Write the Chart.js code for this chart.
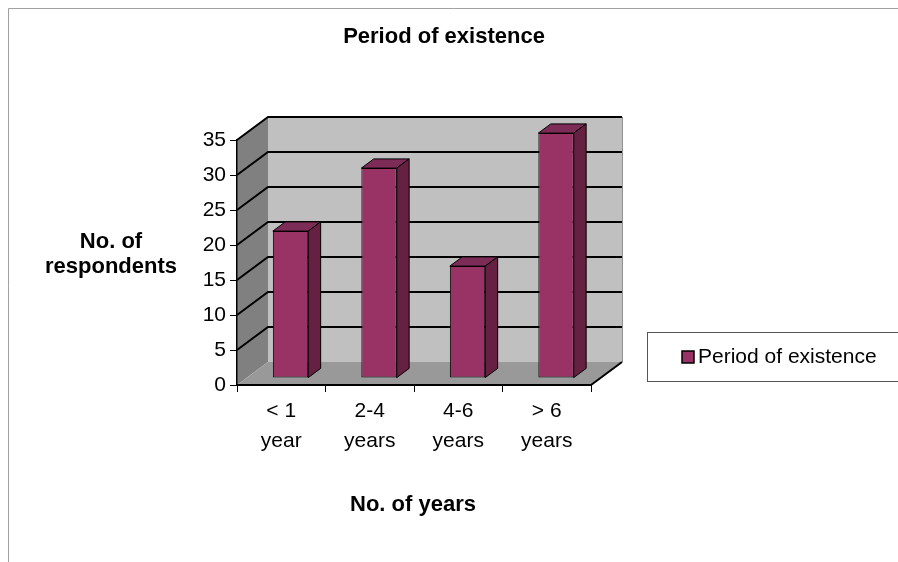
<!DOCTYPE html>
<html>
<head>
<meta charset="utf-8">
<script src="https://cdn.jsdelivr.net/npm/chart.js@4"></script>
<style>
  html, body { margin: 0; padding: 0; background: #fff; }
</style>
</head>
<body>
<canvas id="grafico" width="898" height="562"></canvas>
<script>
const categorias = [['< 1', 'year'], ['2-4', 'years'], ['4-6', 'years'], ['> 6', 'years']];
const valores = [21, 30, 16, 35];
const ticksY = [0, 5, 10, 15, 20, 25, 30, 35];
const serie = 'Period of existence';
const titulo = 'Period of existence';
const tituloY = ['No. of', 'respondents'];
const tituloX = 'No. of years';

const fuente = '"Liberation Sans", Arial, sans-serif';
Chart.defaults.font.family = fuente;

// profundidad del efecto 3D
const prof = { dx: 31, dy: -23 };
const frente = 0.3;   // donde empieza la barra
const grosor = 0.4;   // cuanto fondo tiene la barra

function poligono(ctx, pts, relleno, trazo, ancho) {
  ctx.beginPath();
  ctx.moveTo(pts[0][0], pts[0][1]);
  pts.slice(1).forEach(p => ctx.lineTo(p[0], p[1]));
  ctx.closePath();
  if (relleno) { ctx.fillStyle = relleno; ctx.fill(); }
  if (trazo) { ctx.strokeStyle = trazo; ctx.lineWidth = ancho || 1; ctx.stroke(); }
}

const paredes = {
  id: 'paredes',
  beforeDraw(chart) {
    const ctx = chart.ctx;
    const { left, right, top, bottom } = chart.chartArea;
    const { dx, dy } = prof;
    ctx.save();
    // borde exterior
    ctx.strokeStyle = '#a0a0a0';
    ctx.lineWidth = 1;
    ctx.beginPath();
    ctx.moveTo(8.5, 562); ctx.lineTo(8.5, 8.5); ctx.lineTo(898, 8.5);
    ctx.stroke();

    poligono(ctx, [[left, bottom], [left, top], [left + dx, top + dy], [left + dx, bottom + dy]], '#808080');
    poligono(ctx, [[left + dx, top + dy], [right + dx, top + dy], [right + dx, bottom + dy], [left + dx, bottom + dy]], '#c0c0c0');
    ctx.strokeStyle = '#909090';
    ctx.beginPath();
    ctx.moveTo(right + dx + 0.5, top + dy); ctx.lineTo(right + dx + 0.5, bottom + dy);
    ctx.stroke();
    poligono(ctx, [[left, bottom], [right, bottom], [right + dx, bottom + dy], [left + dx, bottom + dy]], '#999999');

    // lineas de cuadricula
    const y = chart.scales.y;
    ctx.strokeStyle = '#000';
    ctx.lineWidth = 2;
    ticksY.slice(1).forEach(v => {
      const py = y.getPixelForValue(v);
      ctx.beginPath();
      ctx.moveTo(left, py);
      ctx.lineTo(left + dx, py + dy);
      ctx.lineTo(right + dx, py + dy);
      ctx.stroke();
    });
    // borde derecho del piso
    ctx.beginPath();
    ctx.moveTo(right, bottom); ctx.lineTo(right + dx, bottom + dy);
    ctx.stroke();
    ctx.restore();
  },
  beforeDatasetsDraw(chart) {
    chart.ctx.save();
    chart.ctx.translate(prof.dx * frente, prof.dy * frente);
  },
  afterDatasetsDraw(chart) {
    const ctx = chart.ctx;
    ctx.restore();
    const tx = prof.dx * frente, ty = prof.dy * frente;
    const bx = prof.dx * grosor, by = prof.dy * grosor;
    ctx.save();
    chart.getDatasetMeta(0).data.forEach(bar => {
      const l = bar.x - bar.width / 2 + tx, r = bar.x + bar.width / 2 + tx;
      const t = bar.y + ty, b = bar.base + ty;
      poligono(ctx, [[l, t], [r, t], [r + bx, t + by], [l + bx, t + by]], '#7d2b57', '#000', 1);
      poligono(ctx, [[r, t], [r + bx, t + by], [r + bx, b + by], [r, b]], '#652042', '#000', 1);
    });
    ctx.restore();
  },
  afterDraw(chart) {
    const ctx = chart.ctx;
    ctx.save();
    ctx.fillStyle = '#000';
    ctx.textAlign = 'center';
    ctx.textBaseline = 'middle';
    ctx.font = 'bold 22px ' + fuente;
    ctx.fillText(titulo, 444, 37);
    ctx.fillText(tituloY[0], 111, 242);
    ctx.fillText(tituloY[1], 111, 267);
    ctx.fillText(tituloX, 413, 505);

    // leyenda
    const ds = chart.data.datasets[0];
    ctx.strokeStyle = '#555';
    ctx.lineWidth = 1;
    ctx.strokeRect(647.5, 332.5, 270, 49);
    ctx.fillStyle = ds.backgroundColor;
    ctx.fillRect(682, 351, 12, 12);
    ctx.strokeStyle = '#000';
    ctx.lineWidth = 1.5;
    ctx.strokeRect(682, 351, 12, 12);
    ctx.fillStyle = '#000';
    ctx.textAlign = 'left';
    ctx.font = '21px ' + fuente;
    ctx.fillText(ds.label, 698, 357);
    ctx.restore();
  }
};

const ctx = document.getElementById('grafico').getContext('2d');
new Chart(ctx, {
  type: 'bar',
  data: {
    labels: categorias,
    datasets: [{
      label: serie,
      data: valores,
      backgroundColor: '#993366',
      borderColor: '#000',
      borderWidth: 1,
      borderSkipped: false,
      barPercentage: 0.4,
      categoryPercentage: 1,
      clip: false
    }]
  },
  options: {
    responsive: false,
    animation: false,
    layout: { padding: { top: 140, right: 307, bottom: 0, left: 0 } },
    plugins: {
      legend: { display: false },
      title: { display: false },
      tooltip: { enabled: false }
    },
    scales: {
      x: {
        grid: { drawOnChartArea: false, tickLength: 7, color: '#000', offset: true },
        border: { display: true, color: '#000', width: 2 },
        ticks: { color: '#000', padding: 4, maxRotation: 0, autoSkip: false,
                 font: { size: 21, lineHeight: 1.43 } },
        afterFit: s => { s.height = 177; }
      },
      y: {
        min: 0,
        max: 35,
        grid: { drawOnChartArea: false, tickLength: 7, color: '#000' },
        border: { display: true, color: '#000', width: 1.5 },
        ticks: { color: '#000', padding: 4, font: { size: 21 } },
        afterBuildTicks: s => { s.ticks = ticksY.map(v => ({ value: v })); },
        afterFit: s => { s.width = 237; }
      }
    }
  },
  plugins: [paredes]
});
</script>
</body>
</html>
